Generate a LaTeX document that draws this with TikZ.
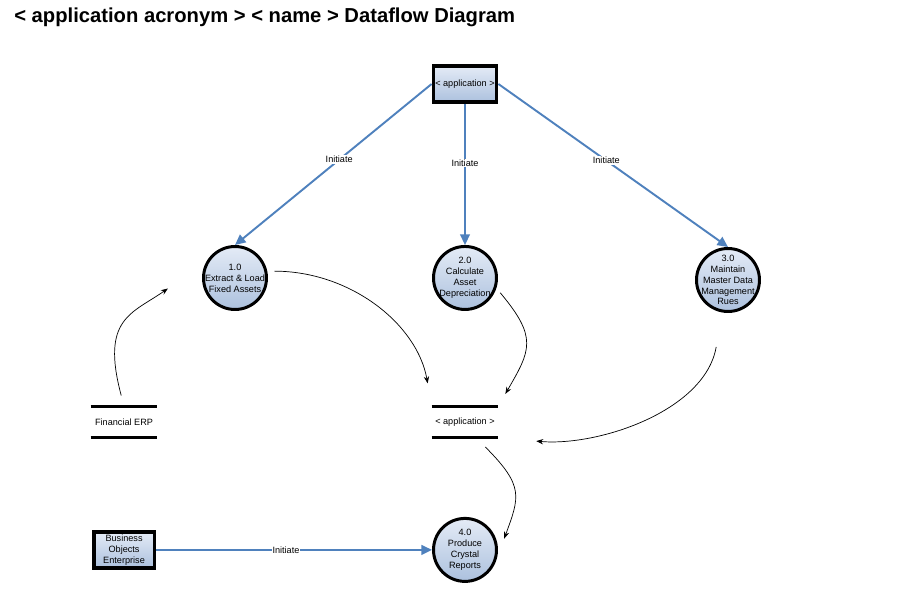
\documentclass[tikz,border=0pt]{standalone}
\usepackage{fontspec}
\setmainfont{Liberation Sans}
\usetikzlibrary{arrows.meta,positioning}
\definecolor{flow}{RGB}{79,129,189}
\definecolor{hi}{RGB}{228,235,246}
\definecolor{lo}{RGB}{172,193,222}
\newcommand{\dfdsmall}{\fontsize{5.2}{6.2}\selectfont}
\begin{document}
\begin{tikzpicture}[x=0.02cm,y=-0.02cm,
    proc/.style={circle,draw,line width=1.7pt,minimum size=1.26cm,inner sep=-4pt,top color=hi,bottom color=lo,align=center,font=\dfdsmall},
    ent/.style={rectangle,draw,line width=2.2pt,minimum width=1.22cm,minimum height=0.72cm,inner sep=1pt,top color=hi,bottom color=lo,align=center,font=\dfdsmall},
    store/.style={rectangle,minimum width=1.32cm,minimum height=0.62cm,inner sep=0pt,font=\dfdsmall},
    flowline/.style={flow,line width=1.1pt,-{Triangle[length=6pt,width=5.5pt]}},
    curve/.style={black,line width=0.4pt,-{Stealth[length=4pt,width=3pt]}},
    lbl/.style={fill=white,text=black,inner sep=0.5pt,font=\dfdsmall}]
  \useasboundingbox (0,0) rectangle (900,608);
  \node[anchor=base west,inner sep=0pt,font=\fontsize{11.5}{13}\selectfont\bfseries] (Title) at (14,23) {< application acronym > < name > Dataflow Diagram};
  \node[ent] (App) at (465,84) {< application >};
  \node[proc] (P1) at (235,278) {1.0\\Extract \& Load\\Fixed Assets};
  \node[proc] (P2)[below of=App,node distance=3.88cm] {2.0\\Calculate\\Asset\\Depreciation};
  \node[proc] (P3) at (728,280) {3.0\\Maintain\\Master Data\\Management\\Rues};
  \node[store] (Store)[below of=P2,node distance=2.88cm] {< application >};
  \node[proc] (P4)[below of=Store,node distance=2.56cm] {4.0\\Produce\\Crystal\\Reports};
  \node[store] (ERP)[left of=Store,node distance=6.82cm] {Financial ERP};
  \node[ent] (BOE)[left of=P4,node distance=6.82cm] {Business\\Objects\\Enterprise};
  \foreach \s in {ERP,Store}
    \draw[line width=1.7pt] (\s.north west) -- (\s.north east) (\s.south west) -- (\s.south east);
  % initiate flows
  \path[flowline] (App.west) edge node[lbl,pos=.47]{Initiate} (P1.north);
  \path[flowline] (App.south) edge node[lbl,pos=.42]{Initiate} (P2.north);
  \path[flowline] (App.east) edge node[lbl,pos=.47]{Initiate} (P3.north);
  \path[flowline] (BOE) edge node[lbl,pos=.47]{Initiate} (P4);
  % data flows
  \path[curve] (P1.12) edge[out=0,in=100,shorten <=0.14cm,shorten >=0.46cm] (Store.north west);
  \path[curve] (P2.-18) edge[out=-50,in=60,looseness=1.4,shorten <=0.12cm,shorten >=0.28cm] (Store.north east);
  \path[curve] (P3.-100) edge[out=-100,in=-5,shorten <=0.7cm,shorten >=0.76cm] (Store.south east);
  \path[curve] (ERP.north) edge[out=105,in=-145,looseness=1.4,shorten <=0.22cm,shorten >=0.94cm] (P1.150);
  \path[curve] (Store.-55) edge[out=-45,in=70,looseness=1.4,shorten <=0.26cm,shorten >=0.48cm] (P4.-20);
\end{tikzpicture}
\end{document}
